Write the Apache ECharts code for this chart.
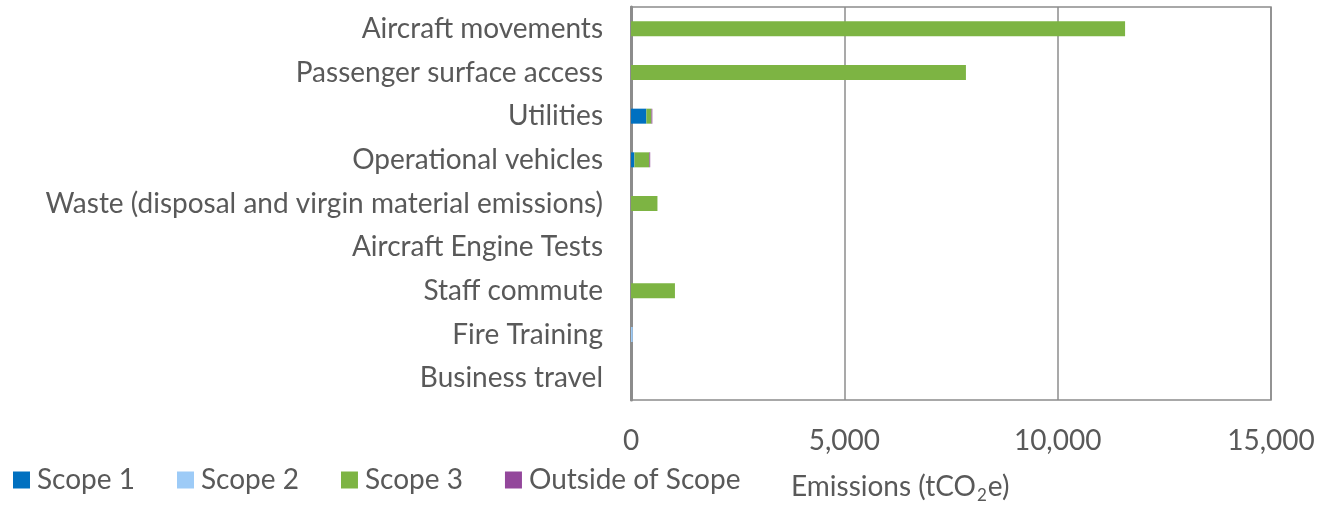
<!DOCTYPE html>
<html>
<head>
<meta charset="utf-8">
<script src="https://cdn.jsdelivr.net/npm/echarts@6/dist/echarts.min.js"></script>
<style>
  html, body { margin: 0; padding: 0; background: #fff; }
  #chart { width: 1322px; height: 505px; }
</style>
</head>
<body>
<div id="chart"></div>
<script>
// Emission sources, top to bottom
var categories = [
  'Aircraft movements',
  'Passenger surface access',
  'Utilities',
  'Operational vehicles',
  'Waste (disposal and virgin material emissions)',
  'Aircraft Engine Tests',
  'Staff commute',
  'Fire Training',
  'Business travel'
];

// tCO2e per scope
var scope1 = [0, 0, 360, 80, 0, 0, 0, 0, 0];
var scope2 = [0, 0, 0, 0, 0, 0, 0, 40, 0];
var scope3 = [11580, 7850, 120, 350, 620, 0, 1030, 0, 0];
var outsideScope = [0, 0, 20, 20, 0, 0, 0, 0, 0];

var font = 'Lato';
var textColor = '#595959';

var chart = echarts.init(document.getElementById('chart'));

function bar(name, data, color) {
  return {
    name: name,
    type: 'bar',
    stack: 'total',
    barWidth: 15,
    data: data,
    itemStyle: { color: color }
  };
}

chart.setOption({
  animation: false,
  textStyle: { fontFamily: font },
  title: {
    left: 791,
    top: 470,
    padding: 0,
    text: '{a|Emissions (tCO}{s|2}{a|e)}',
    textStyle: {
      fontWeight: 'normal',
      rich: {
        a: { fontFamily: font, fontSize: 28, lineHeight: 34, color: textColor },
        s: { fontFamily: font, fontSize: 17, lineHeight: 34, color: textColor, verticalAlign: 'bottom', padding: [8, 1, 0, 1] }
      }
    }
  },
  legend: {
    left: 8,
    top: 461,
    itemWidth: 17,
    itemHeight: 17,
    itemGap: 42,
    icon: 'rect',
    textStyle: { fontFamily: font, fontSize: 28, color: textColor, padding: [0, 0, 0, 2] }
  },
  grid: {
    left: 631,
    right: 51,
    top: 7,
    bottom: 105,
    show: true,
    borderColor: '#8c8c8c',
    borderWidth: 1.5
  },
  xAxis: {
    type: 'value',
    min: 0,
    max: 15000,
    interval: 5000,
    axisLine: { show: false },
    axisTick: { show: false },
    splitLine: { lineStyle: { color: '#8c8c8c', width: 1.5 } },
    axisLabel: {
      fontSize: 28,
      color: textColor,
      margin: 27,
      formatter: function (v) { return v.toLocaleString('en-US'); }
    }
  },
  yAxis: {
    type: 'category',
    inverse: true,
    data: categories,
    axisLine: { lineStyle: { color: '#8c8c8c', width: 3 } },
    axisTick: { show: false },
    axisLabel: { fontSize: 28, color: textColor, margin: 28 }
  },
  series: [
    bar('Scope 1', scope1, '#0070C0'),
    bar('Scope 2', scope2, '#9DCBF7'),
    bar('Scope 3', scope3, '#7DB443'),
    bar('Outside of Scope', outsideScope, '#93479B')
  ]
});
</script>
</body>
</html>
